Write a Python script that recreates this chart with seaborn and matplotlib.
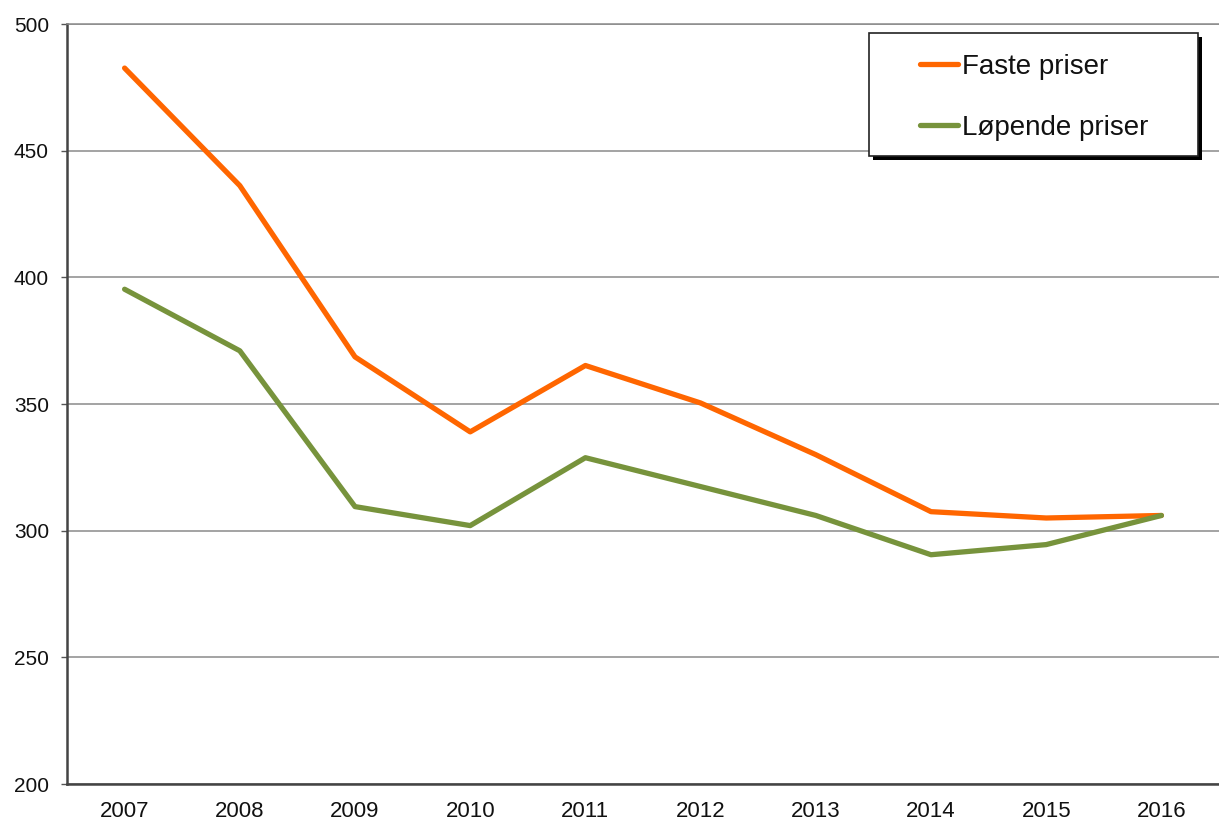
import matplotlib
matplotlib.use("Agg")
import matplotlib.pyplot as plt
from matplotlib.patches import Rectangle
import matplotlib.patheffects as pe
import seaborn as sns
import pandas as pd
import numpy as np

years = ["2007", "2008", "2009", "2010", "2011", "2012", "2013", "2014", "2015", "2016"]
faste_priser = [482.6, 436.2, 368.6, 339.0, 365.2, 350.4, 330.0, 307.5, 305.0, 306.0]
lopende_priser = [395.3, 371.0, 309.5, 302.0, 328.8, 317.4, 306.0, 290.5, 294.5, 306.0]
series_names = ["Faste priser", "Løpende priser"]
y_ticks = [200, 250, 300, 350, 400, 450, 500]

df = pd.DataFrame({
    "year": years * 2,
    "value": faste_priser + lopende_priser,
    "series": [series_names[0]] * len(years) + [series_names[1]] * len(years),
})

sns.set_theme(style="white")
plt.rcParams["font.family"] = ["Liberation Sans", "DejaVu Sans"]

fig = plt.figure(figsize=(12.19, 8.22), dpi=100)
ax = fig.add_axes([67 / 1219, 1 - 784 / 822, 1 - 67 / 1219, (784 - 24) / 822])

palette = {"Faste priser": "#FF6600", "Løpende priser": "#77933C"}
sns.lineplot(data=df, x="year", y="value", hue="series", palette=palette,
             linewidth=3.8, ax=ax, legend=False, sort=False)

# axes limits and ticks
ax.set_ylim(200, 500)
ax.set_xlim(-0.5, 9.45)
ax.set_yticks(y_ticks)
ax.set_xticks(range(len(years)))
ax.set_xticklabels(years)
ax.set_xticks(np.arange(-0.5, len(years), 1.0), minor=True)
ax.tick_params(axis="x", which="major", length=0, pad=12, labelsize=16, labelcolor="#111111")
ax.tick_params(axis="x", which="minor", length=4.5, width=1, color="#555555", direction="out")
ax.tick_params(axis="y", which="major", length=4, width=1, color="#555555", direction="out",
               left=True, pad=9, labelsize=15, labelcolor="#111111")
ax.set_xlabel("")
ax.set_ylabel("")

# gridlines
ax.yaxis.grid(True, color="#8a8a8a", linewidth=1.1)
ax.xaxis.grid(False)
ax.set_axisbelow(True)

# spines
for side in ["left", "bottom"]:
    ax.spines[side].set_color("#444444")
    ax.spines[side].set_linewidth(1.8)
ax.spines["top"].set_color("#8a8a8a")
ax.spines["top"].set_linewidth(1.1)
ax.spines["right"].set_visible(False)

# legend box with hard shadow
box = Rectangle((869 / 1219, 1 - 156 / 822), 329 / 1219, 123 / 822,
                transform=fig.transFigure, facecolor="white", edgecolor="#222222",
                linewidth=1.2, zorder=4, clip_on=False,
                path_effects=[pe.SimplePatchShadow(offset=(3, -3), shadow_rgbFace="black", alpha=1.0),
                              pe.Normal()])
ax.add_patch(box)

handles = [plt.Line2D([], [], color=palette[n], linewidth=3.8) for n in series_names]
leg = ax.legend(handles, series_names, loc="upper left",
                bbox_to_anchor=(920 / 1219, 1 - 54 / 822), bbox_transform=fig.transFigure,
                frameon=False, fontsize=20, handlelength=1.35, handletextpad=0.15,
                labelspacing=1.25, borderpad=0, borderaxespad=0)
for t in leg.get_texts():
    t.set_color("#111111")
leg.set_zorder(6)

fig.savefig("out.png", dpi=100)
plt.close(fig)
